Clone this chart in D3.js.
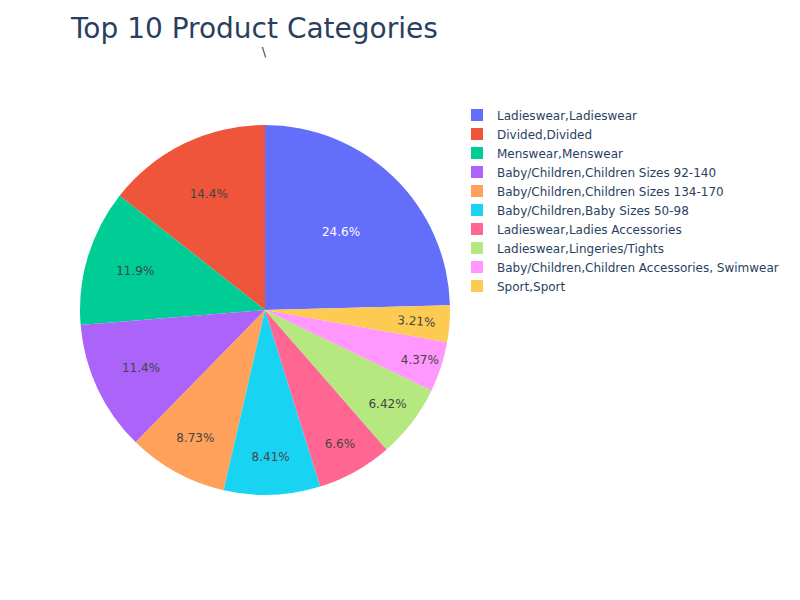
<!DOCTYPE html>
<html>
<head>
<meta charset="utf-8">
<script src="https://cdn.jsdelivr.net/npm/d3@7"></script>
<style>
  body { margin: 0; background: #fff; }
  text { font-family: "DejaVu Sans", Verdana, sans-serif; }
</style>
</head>
<body>
<svg id="chart" width="800" height="600"></svg>
<script>
// Data (percent shares)
const categories = [
    "Ladieswear,Ladieswear",
    "Divided,Divided",
    "Menswear,Menswear",
    "Baby/Children,Children Sizes 92-140",
    "Baby/Children,Children Sizes 134-170",
    "Baby/Children,Baby Sizes 50-98",
    "Ladieswear,Ladies Accessories",
    "Ladieswear,Lingeries/Tights",
    "Baby/Children,Children Accessories, Swimwear",
    "Sport,Sport"
];
const values = [24.6, 14.4, 11.9, 11.4, 8.73, 8.41, 6.6, 6.42, 4.37, 3.21];
const colors = ["#636efa", "#EF553B", "#00cc96", "#ab63fa", "#FFA15A",
                "#19d3f3", "#FF6692", "#B6E880", "#FF97FF", "#FECB52"];
const chartTitle = "Top 10 Product Categories";
const pieTitle = "\\";

const svg = d3.select("#chart");
const cx = 265, cy = 310, R = 185;

svg.append("rect").attr("width", 800).attr("height", 600).attr("fill", "#fff");

// Title
svg.append("text")
    .attr("x", 71).attr("y", 38)
    .attr("font-size", 28)
    .attr("fill", "#2a3f5f")
    .text(chartTitle);

// pie trace title (just a backslash in the original)
svg.append("text")
    .attr("x", cx - 1).attr("y", 56)
    .attr("text-anchor", "middle")
    .attr("font-size", 13)
    .attr("fill", "#2a3f5f")
    .text(pieTitle);

// Pie goes counterclockwise, first slice ends at 12 o'clock
const total = d3.sum(values);
const a0 = values[0] / total * 2 * Math.PI;
const pie = d3.pie().sort(null).startAngle(a0).endAngle(a0 - 2 * Math.PI);
const arcs = pie(values);
const arc = d3.arc().innerRadius(0).outerRadius(R);

const g = svg.append("g").attr("transform", `translate(${cx},${cy})`);

g.selectAll("path.slice")
    .data(arcs)
    .join("path")
    .attr("class", "slice")
    .attr("d", arc)
    .attr("fill", (d, i) => colors[i]);

// white text on dark slices, grey on light ones
function textColor(c) {
    const rgb = d3.rgb(c);
    const brightness = (rgb.r * 299 + rgb.g * 587 + rgb.b * 114) / 1000;
    return brightness < 128 ? "#fff" : "#444";
}

const fmt = d3.format(".3~r");
const TEXTPAD = 3;

arcs.forEach((d, i) => {
    const label = fmt(d.value / total * 100) + "%";
    const t = g.append("text")
        .attr("font-size", 12)
        .attr("fill", textColor(colors[i]))
        .attr("text-anchor", "middle")
        .text(label);
    const bb = t.node().getBBox();
    const half = Math.abs(d.endAngle - d.startAngle) / 2;
    const mid = (d.startAngle + d.endAngle) / 2;

    // horizontal placement inside the inscribed circle
    const rIns = Math.min(1 / (1 + 1 / Math.sin(half)), 0.5);
    let scale = rIns * R * 2 / Math.hypot(bb.width, bb.height);
    let rc = 1 - rIns;
    let rot = 0;

    // doesn't fit horizontally -> try radial orientation
    if (scale < 1) {
        const r2 = R - 2 * TEXTPAD;
        const a = bb.width / bb.height;
        const q = a + 1 / (2 * Math.tan(half));
        const s = r2 * Math.min(1 / (Math.sqrt(q * q + 0.5) + q), 1 / (Math.sqrt(a * a + 0.5) + a));
        const sRad = s * 2 / bb.height;
        if (sRad > scale) {
            scale = sRad;
            rc = Math.cos(s / r2) - a * s / r2;
            rot = ((mid * 180 / Math.PI) + 720) % 180 - 90;
        }
    }
    scale = Math.min(1, scale);

    const x = R * Math.sin(mid) * rc;
    const y = -R * Math.cos(mid) * rc;
    t.attr("y", -(bb.y + bb.height / 2))
     .attr("transform", `translate(${x},${y}) rotate(${rot}) scale(${scale})`);
});

// Legend
const legend = svg.append("g").attr("transform", "translate(471,115)");
const rows = legend.selectAll("g")
    .data(categories)
    .join("g")
    .attr("transform", (d, i) => `translate(0,${i * 19})`);

rows.append("rect")
    .attr("x", 0).attr("y", -6)
    .attr("width", 12).attr("height", 12)
    .attr("fill", (d, i) => colors[i]);

rows.append("text")
    .attr("x", 26).attr("y", 4.5)
    .attr("font-size", 12)
    .attr("fill", "#2a3f5f")
    .text(d => d);
</script>
</body>
</html>
